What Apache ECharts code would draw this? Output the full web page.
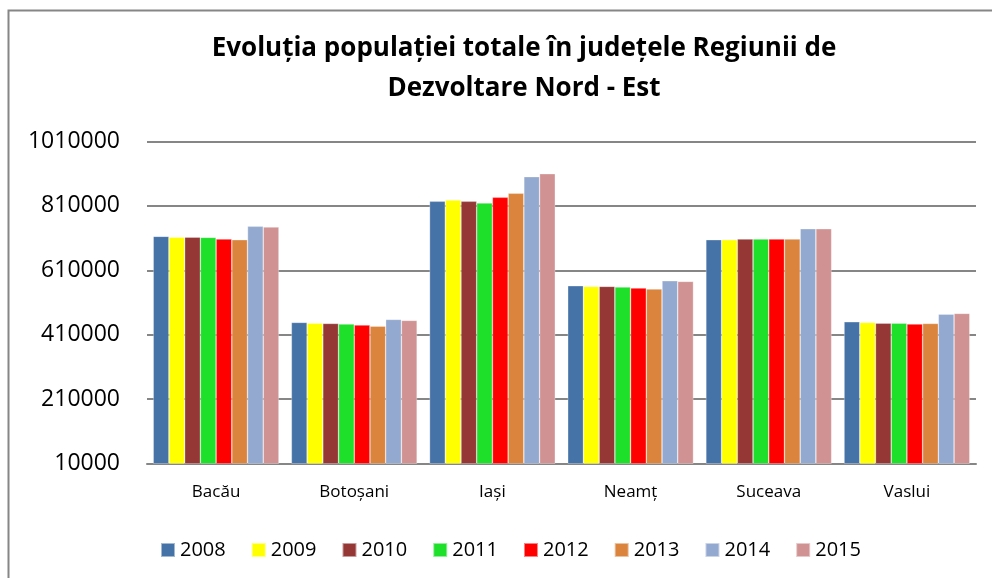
<!DOCTYPE html>
<html lang="ro">
<head>
    <meta charset="UTF-8">
    <script src="https://cdn.jsdelivr.net/npm/echarts@6/dist/echarts.min.js"></script>
    <title>Evoluţia populaţiei totale</title>
    <style>
        html, body { margin: 0; padding: 0; background: #fff; }
        #chart { width: 992px; height: 578px; }
    </style>
</head>
<body>
    <div id="chart"></div>
    <script>
        // judete si ani
        const judete = ['Bacău', 'Botoşani', 'Iaşi', 'Neamţ', 'Suceava', 'Vaslui'];
        const ani = ['2008', '2009', '2010', '2011', '2012', '2013', '2014', '2015'];
        const culori = ['#4572A7', '#FFFF00', '#953735', '#1EE02A', '#FF0000', '#DB843D', '#93A9CF', '#D09292'];

        // populatia pe ani, in ordinea judetelor
        const pop2008 = [715500, 448200, 824300, 562000, 705000, 450000];
        const pop2009 = [713000, 446000, 828300, 560100, 705000, 448200];
        const pop2010 = [713000, 445000, 824300, 560000, 707000, 446000];
        const pop2011 = [712400, 443000, 819000, 558000, 707000, 446000];
        const pop2012 = [707000, 440000, 836700, 554800, 707000, 443000];
        const pop2013 = [705000, 436700, 849200, 551700, 707000, 445000];
        const pop2014 = [746600, 457600, 900800, 577500, 739000, 474000];
        const pop2015 = [744400, 454400, 910000, 575600, 739000, 476200];
        const valori = [pop2008, pop2009, pop2010, pop2011, pop2012, pop2013, pop2014, pop2015];

        const font = '"Open Sans", "Noto Sans", sans-serif';

        const chart = echarts.init(document.getElementById('chart'), null, { renderer: 'canvas' });
        chart.setOption({
            animation: false,
            color: culori,
            // chenarul graficului
            graphic: [{
                type: 'rect',
                shape: { x: 8.5, y: 10.5, width: 1000, height: 600 },
                style: { fill: 'none', stroke: '#868686', lineWidth: 2 },
                silent: true
            }],
            title: {
                text: 'Evoluţia populaţiei totale în judeţele Regiunii de\nDezvoltare Nord - Est',
                left: 519,
                textAlign: 'center',
                top: 24,
                textStyle: { fontFamily: font, fontSize: 26, fontWeight: 'bold', color: '#000', lineHeight: 40 }
            },
            legend: {
                data: ani,
                left: 155,
                top: 535,
                icon: 'rect',
                itemWidth: 14,
                itemHeight: 14,
                itemGap: 25,
                textStyle: { fontFamily: font, fontSize: 20, color: '#000' }
            },
            grid: { left: 147, right: 16, top: 141.5, bottom: 114.5, containLabel: false },
            xAxis: {
                type: 'category',
                data: judete,
                axisLine: { lineStyle: { color: '#868686', width: 2 } },
                axisTick: { show: false },
                axisLabel: { fontFamily: font, fontSize: 17, color: '#000', margin: 20 }
            },
            yAxis: {
                type: 'value',
                min: 10000,
                max: 1010000,
                interval: 200000,
                axisLine: { show: false },
                axisTick: { show: false },
                splitLine: { lineStyle: { color: '#868686', width: 2 } },
                axisLabel: { fontFamily: font, fontSize: 23, color: '#000', margin: 27, formatter: v => String(v) }
            },
            series: ani.map((an, i) => ({
                name: an,
                type: 'bar',
                data: valori[i],
                barGap: '0%',
                barCategoryGap: '9%',
                itemStyle: { borderColor: 'rgba(255,255,255,0.5)', borderWidth: 0.6 }
            }))
        });
    </script>
</body>
</html>
